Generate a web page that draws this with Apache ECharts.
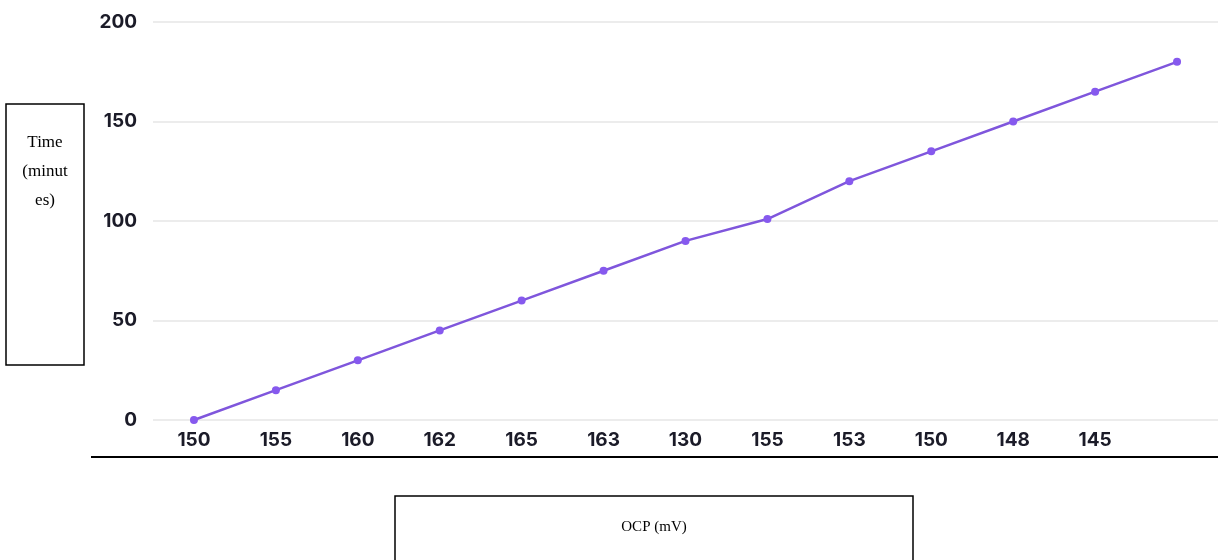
<!DOCTYPE html>
<html>
<head>
<meta charset="utf-8">
<script src="https://cdn.jsdelivr.net/npm/echarts@6/dist/echarts.min.js"></script>
<style>
  html, body { margin: 0; padding: 0; background: #fff; }
  #chart { width: 1218px; height: 560px; }
</style>
</head>
<body>
<div id="chart"></div>
<script>
// OCP readings (x axis labels), last point has no label
var ocpLabels = ['150', '155', '160', '162', '165', '163', '130', '155', '153', '150', '148', '145', ''];
// time in minutes
var timeValues = [0, 15, 30, 45, 60, 75, 90, 101, 120, 135, 150, 165, 180];
var yTicks = { min: 0, max: 200, interval: 50 };

var chart = echarts.init(document.getElementById('chart'));

var tickFont = {
  fontFamily: 'Inter',
  fontWeight: 700,
  fontSize: 19,
  color: '#1b1b28'
};

var option = {
  backgroundColor: '#ffffff',
  animation: false,
  grid: {
    left: 153,
    right: -3,
    top: 22,
    bottom: 140
  },
  xAxis: {
    type: 'category',
    data: ocpLabels,
    boundaryGap: true,
    axisLine: { show: false },
    axisTick: { show: false },
    axisLabel: Object.assign({ margin: 11, interval: 0 }, tickFont),
    splitLine: { show: false }
  },
  yAxis: {
    type: 'value',
    min: yTicks.min,
    max: yTicks.max,
    interval: yTicks.interval,
    axisLine: { show: false },
    axisTick: { show: false },
    axisLabel: Object.assign({ margin: 16 }, tickFont),
    splitLine: { lineStyle: { color: '#e6e6e6', width: 1.5 } }
  },
  series: [{
    type: 'line',
    data: timeValues,
    symbol: 'circle',
    symbolSize: 8,
    itemStyle: { color: '#8659ee' },
    lineStyle: { color: '#7f56dc', width: 2.5 }
  }],
  graphic: [
    // y axis title box
    {
      type: 'rect',
      shape: { x: 6, y: 104, width: 78, height: 261 },
      style: { fill: 'none', stroke: '#000', lineWidth: 1.5 }
    },
    {
      type: 'text',
      x: 45, y: 172,
      style: {
        text: 'Time\n(minut\nes)',
        font: '17px "Liberation Serif"',
        fill: '#000',
        align: 'center',
        verticalAlign: 'middle',
        lineHeight: 29
      }
    },
    // black rule under the x labels
    {
      type: 'line',
      shape: { x1: 91, y1: 457, x2: 1218, y2: 457 },
      style: { stroke: '#000', lineWidth: 2 }
    },
    // x axis title box
    {
      type: 'rect',
      shape: { x: 395, y: 496, width: 518, height: 90 },
      style: { fill: 'none', stroke: '#000', lineWidth: 1.5 }
    },
    {
      type: 'text',
      x: 654, y: 527,
      style: {
        text: 'OCP (mV)',
        font: '15px "Liberation Serif"',
        fill: '#000',
        align: 'center',
        verticalAlign: 'middle'
      }
    }
  ]
};

chart.setOption(option);
</script>
</body>
</html>
